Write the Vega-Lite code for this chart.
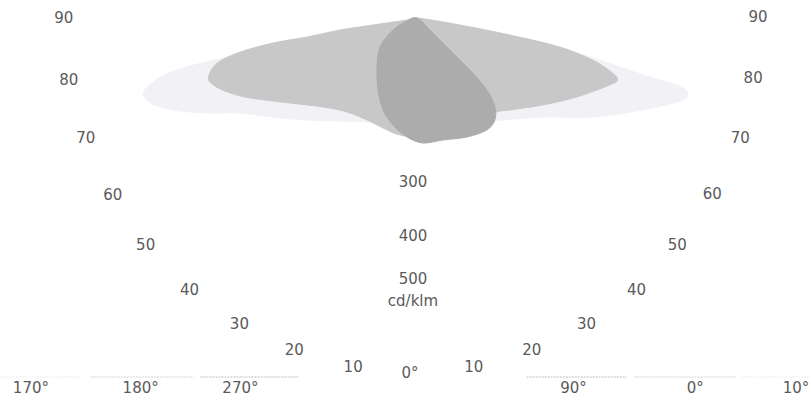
{
  "$schema": "https://vega.github.io/schema/vega-lite/v6.json",
  "width": 811,
  "height": 405,
  "autosize": {"type": "fit", "contains": "padding"},
  "padding": 0,
  "background": "#ffffff",
  "config": {"view": {"stroke": null}, "axis": {"disable": true}},
  "datasets": {
    "halo": [
      {"i": 0, "x": -270, "y": 285}, {"i": 1, "x": -253, "y": 300}, {"i": 2, "x": -230, "y": 309}, {"i": 3, "x": -198, "y": 317},
      {"i": 4, "x": -153, "y": 325}, {"i": 5, "x": -83, "y": 332}, {"i": 6, "x": 2, "y": 337}, {"i": 7, "x": 87, "y": 332},
      {"i": 8, "x": 157, "y": 325}, {"i": 9, "x": 210, "y": 309}, {"i": 10, "x": 237, "y": 300}, {"i": 11, "x": 264, "y": 292},
      {"i": 12, "x": 275, "y": 285}, {"i": 13, "x": 270, "y": 277}, {"i": 14, "x": 230, "y": 267}, {"i": 15, "x": 180, "y": 260},
      {"i": 16, "x": 130, "y": 260}, {"i": 17, "x": 90, "y": 257}, {"i": 18, "x": 37, "y": 252}, {"i": 19, "x": 2, "y": 252},
      {"i": 20, "x": -43, "y": 255}, {"i": 21, "x": -106, "y": 257}, {"i": 22, "x": -140, "y": 260}, {"i": 23, "x": -173, "y": 264},
      {"i": 24, "x": -206, "y": 264}, {"i": 25, "x": -240, "y": 267}, {"i": 26, "x": -263, "y": 274}
    ],
    "lens": [
      {"i": 0, "x": -205, "y": 300}, {"i": 1, "x": -196, "y": 314}, {"i": 2, "x": -173, "y": 325}, {"i": 3, "x": -140, "y": 334},
      {"i": 4, "x": -106, "y": 340}, {"i": 5, "x": -73, "y": 347}, {"i": 6, "x": -40, "y": 352}, {"i": 7, "x": -6, "y": 357},
      {"i": 8, "x": 4, "y": 359}, {"i": 9, "x": 47, "y": 352}, {"i": 10, "x": 97, "y": 342}, {"i": 11, "x": 147, "y": 330},
      {"i": 12, "x": 180, "y": 317}, {"i": 13, "x": 200, "y": 304}, {"i": 14, "x": 205, "y": 297}, {"i": 15, "x": 197, "y": 292},
      {"i": 16, "x": 164, "y": 280}, {"i": 17, "x": 130, "y": 272}, {"i": 18, "x": 97, "y": 267}, {"i": 19, "x": 84, "y": 265},
      {"i": 20, "x": 57, "y": 255}, {"i": 21, "x": 27, "y": 245}, {"i": 22, "x": 7, "y": 240}, {"i": 23, "x": -13, "y": 242},
      {"i": 24, "x": -30, "y": 249}, {"i": 25, "x": -46, "y": 257}, {"i": 26, "x": -66, "y": 265}, {"i": 27, "x": -90, "y": 270},
      {"i": 28, "x": -123, "y": 274}, {"i": 29, "x": -163, "y": 279}, {"i": 30, "x": -186, "y": 285}, {"i": 31, "x": -200, "y": 292}
    ],
    "blob": [
      {"i": 0, "x": 4, "y": 359}, {"i": 1, "x": 17, "y": 347}, {"i": 2, "x": 37, "y": 327}, {"i": 3, "x": 57, "y": 307},
      {"i": 4, "x": 74, "y": 287}, {"i": 5, "x": 82, "y": 270}, {"i": 6, "x": 82, "y": 257}, {"i": 7, "x": 74, "y": 247},
      {"i": 8, "x": 54, "y": 240}, {"i": 9, "x": 30, "y": 237}, {"i": 10, "x": 10, "y": 234}, {"i": 11, "x": -6, "y": 240},
      {"i": 12, "x": -20, "y": 252}, {"i": 13, "x": -30, "y": 267}, {"i": 14, "x": -35, "y": 287}, {"i": 15, "x": -36, "y": 310},
      {"i": 16, "x": -33, "y": 330}, {"i": 17, "x": -20, "y": 347}, {"i": 18, "x": -8, "y": 355}
    ],
    "dots": [
      {"x": -413, "x2": -333, "y": 0, "c": "faint"},
      {"x": -323, "x2": -220, "y": 0, "c": "mid"},
      {"x": -213, "x2": -115, "y": 0, "c": "dark"},
      {"x": 114, "x2": 214, "y": 0, "c": "dark"},
      {"x": 222, "x2": 324, "y": 0, "c": "mid"},
      {"x": 329, "x2": 398, "y": 0, "c": "faint"}
    ],
    "labels": [
      {"t": "10", "x": -60, "y": 10}, {"t": "20", "x": -119, "y": 27}, {"t": "30", "x": -174, "y": 53},
      {"t": "40", "x": -224, "y": 87}, {"t": "50", "x": -268, "y": 132}, {"t": "60", "x": -301, "y": 182},
      {"t": "70", "x": -328, "y": 239}, {"t": "80", "x": -345, "y": 297}, {"t": "90", "x": -350, "y": 359},
      {"t": "10", "x": 61, "y": 10}, {"t": "20", "x": 119, "y": 27}, {"t": "30", "x": 174, "y": 53},
      {"t": "40", "x": 224, "y": 87}, {"t": "50", "x": 265, "y": 132}, {"t": "60", "x": 300, "y": 183},
      {"t": "70", "x": 328, "y": 239}, {"t": "80", "x": 341, "y": 299}, {"t": "90", "x": 346, "y": 360},
      {"t": "0°", "x": -3, "y": 4},
      {"t": "300", "x": 0, "y": 195}, {"t": "400", "x": 0, "y": 141}, {"t": "500", "x": 0, "y": 98},
      {"t": "cd/klm", "x": 0, "y": 76},
      {"t": "170°", "x": -383, "y": -11}, {"t": "180°", "x": -273, "y": -11}, {"t": "270°", "x": -173, "y": -11},
      {"t": "90°", "x": 161, "y": -11}, {"t": "0°", "x": 283, "y": -11}, {"t": "10°", "x": 384, "y": -11}
    ]
  },
  "layer": [
    {
      "data": {"name": "halo"},
      "mark": {"type": "line", "interpolate": "cardinal-closed", "fill": "#f2f1f6", "stroke": "#f2f1f6", "strokeWidth": 1},
      "encoding": {
        "x": {"field": "x", "type": "quantitative", "scale": {"domain": [-413, 398], "nice": false, "zero": false}},
        "y": {"field": "y", "type": "quantitative", "scale": {"domain": [-28, 377], "nice": false, "zero": false}},
        "order": {"field": "i", "type": "quantitative"}
      }
    },
    {
      "data": {"name": "lens"},
      "mark": {"type": "line", "interpolate": "cardinal-closed", "fill": "#c8c8c9", "stroke": "#c8c8c9", "strokeWidth": 1},
      "encoding": {
        "x": {"field": "x", "type": "quantitative"},
        "y": {"field": "y", "type": "quantitative"},
        "order": {"field": "i", "type": "quantitative"}
      }
    },
    {
      "data": {"name": "blob"},
      "mark": {"type": "line", "interpolate": "cardinal-closed", "fill": "#acacad", "stroke": "#acacad", "strokeWidth": 1},
      "encoding": {
        "x": {"field": "x", "type": "quantitative"},
        "y": {"field": "y", "type": "quantitative"},
        "order": {"field": "i", "type": "quantitative"}
      }
    },
    {
      "data": {"name": "dots"},
      "mark": {"type": "rule", "strokeDash": [2, 1], "strokeWidth": 1},
      "encoding": {
        "x": {"field": "x", "type": "quantitative"},
        "x2": {"field": "x2"},
        "y": {"field": "y", "type": "quantitative"},
        "color": {"field": "c", "type": "nominal", "legend": null,
          "scale": {"domain": ["faint", "mid", "dark"], "range": ["#ececec", "#d2d2d2", "#bcbcbc"]}}
      }
    },
    {
      "data": {"name": "labels"},
      "mark": {"type": "text", "font": "DejaVu Sans", "fontSize": 15, "fill": "#5a5a5a", "align": "center", "baseline": "middle"},
      "encoding": {
        "x": {"field": "x", "type": "quantitative"},
        "y": {"field": "y", "type": "quantitative"},
        "text": {"field": "t", "type": "nominal"}
      }
    }
  ]
}
